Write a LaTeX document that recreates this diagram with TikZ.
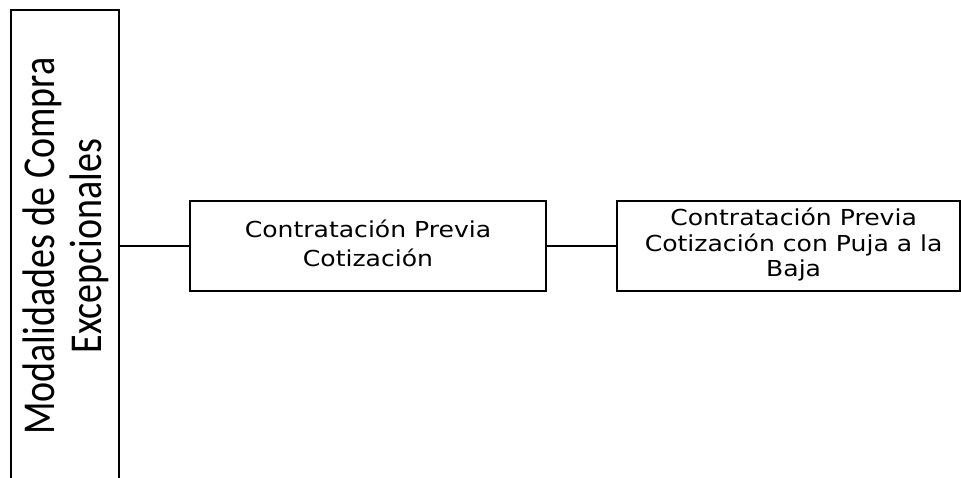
\documentclass[tikz,border=0pt]{standalone}
\usepackage{fontspec}
\usepackage{graphicx}
\newfontfamily\boxfont{DejaVu Sans}
\newfontfamily\sidefont{Carlito}
\begin{document}
\begin{tikzpicture}[x=1pt,y=-1pt,
  frame/.style={draw=black, line width=1.8pt, inner sep=0pt, rectangle},
  link/.style={draw=black, line width=1.2pt}]
\useasboundingbox (0,0) rectangle (961,478);
% left tall box (bottom runs off the page)
\node[frame, minimum width=108pt, minimum height=472pt] (L) at (65,246) {};
\node[inner sep=0pt] (Ltext) at (69,246)
  {\scalebox{1.2}[1]{\rotatebox{90}{\sidefont\fontsize{38}{39}\selectfont
   \begin{tabular}{@{}c@{}}Modalidades de Compra\\Excepcionales\end{tabular}}}};
% middle box
\node[frame, minimum width=356pt, minimum height=90pt] (B2) at (368,246)
  {\scalebox{1.14}[1]{\boxfont\fontsize{22}{29}\selectfont
   \begin{tabular}{@{}c@{}}Contratación Previa\\Cotización\end{tabular}}};
% right box
\node[frame, minimum width=343pt, minimum height=90pt] (B3) at (788.5,246)
  {\scalebox{1.14}[1]{\boxfont\fontsize{22}{25.7}\selectfont
   \begin{tabular}{@{\hspace{9pt}}c@{}}Contratación Previa\\Cotización con Puja a la\\Baja\end{tabular}}};
% connectors
\draw[link] (B2.west) -- (B2.west -| L.east);
\draw[link] (B2.east) -- (B3.west);
\end{tikzpicture}
\end{document}
